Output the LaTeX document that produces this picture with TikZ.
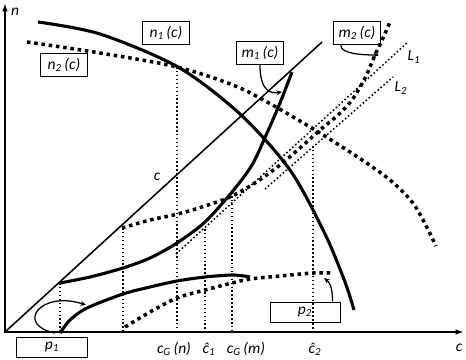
\documentclass[tikz,border=0pt]{standalone}
\usepackage{fontspec}
\setmainfont{Carlito}
\usepackage{tikz}
\usetikzlibrary{arrows.meta}

\begin{document}
\begin{tikzpicture}[x=0.025cm, y=-0.025cm,
    curve/.style={line width=2.2pt},
    bigdots/.style={line width=2.5pt, dash pattern=on 2.5pt off 2.7pt},
    finedots/.style={line width=1.1pt, dash pattern=on 1.1pt off 1.7pt},
    lab/.style={font=\itshape\fontsize{11}{12}\selectfont},
    fbox/.style={lab, draw, line width=1.2pt, minimum width=1.17cm, minimum height=0.57cm, inner sep=1pt},
    pbox/.style={lab, draw, line width=0.7pt, minimum width=1.75cm, minimum height=0.5cm, inner sep=1pt},
    pointer/.style={line width=0.9pt, -{Stealth[length=4pt, width=3.5pt]}}]
    \useasboundingbox (0,0) rectangle (466,360);

    \coordinate (O) at (5,332);
    \coordinate (xend) at (464,332);
    \coordinate (yend) at (5,3);
    \coordinate (diagend) at (322,42);
    \draw[line width=1.4pt, {Latex[length=6pt, width=4pt]}-{Latex[length=6pt, width=4pt]}] (yend) -- (O) -- (xend);
    \draw[line width=1.1pt] (O) -- (diagend);

    \foreach \x/\y [count=\i] in {60/283, 123/228, 177/67, 205/229, 232/196, 313/146} {
        \coordinate (top\i) at (\x,\y);
        \draw[finedots] (top\i) -- (top\i |- O);
    }

    \draw[curve] plot[smooth] coordinates {(38,22) (100,34) (178,67) (240,114) (290,170) (325,234) (345,282) (354,310)};
    \draw[bigdots] plot[smooth] coordinates {(27,42) (100,53) (177,67) (240,88) (300,121) (350,152) (390,180) (415,206) (436,246)};
    \draw[curve] plot[smooth] coordinates {(60,283) (90,277) (123,268) (150,258) (177,243) (205,222) (232,192) (252,165) (267,133) (280,103) (292,72)};
    \draw[bigdots] plot[smooth] coordinates {(122,228) (150,220) (178,214) (205,206) (230,197) (255,183) (280,165) (300,148) (320,130) (338,115) (352,100) (365,78) (375,55) (383,38) (390,22)};
    \draw[curve] plot[smooth] coordinates {(60,333) (70,320) (87,308) (123,294) (150,287) (177,281) (205,277) (233,275) (250,277)};
    \draw[bigdots] plot[smooth] coordinates {(125,327) (150,312) (177,298) (205,290) (232,283) (250,279) (280,276) (313,273) (333,273)};

    \coordinate (L1a) at (176,254);
    \coordinate (L1b) at (408,42);
    \coordinate (L2a) at (265,189);
    \coordinate (L2b) at (393,77);
    \draw[finedots] (L1a) -- (L1b);
    \draw[finedots] (L2a) -- (L2b);

    \node[fbox] (n1lab) at (166,33) {n\textsubscript{1}\,(c)};
    \node[fbox] (n2lab) at (64,65) {n\textsubscript{2}\,(c)};
    \node[fbox] (m1lab) at (260,53) {m\textsubscript{1}\,(c)};
    \node[fbox] (m2lab) at (357,33) {m\textsubscript{2}\,(c)};
    \node[pbox] (p1lab) at (52,347) {p\textsubscript{1}};
    \node[pbox] (p2lab) at (305,312) {p\textsubscript{2}};

    \node[lab] (ycap) at (15,12) {n};
    \node[lab] (xcap) at (459,348) {c};
    \node[lab] (diagcap) at (157,177) {c};
    \node[lab] (cgn) at (174,349) {c\textsubscript{G}\,(n)};
    \node[lab] (chat1) at (209,349) {ĉ\textsubscript{1}};
    \node[lab] (cgm) at (246,349) {c\textsubscript{G}\,(m)};
    \node[lab] (chat2) at (315,349) {ĉ\textsubscript{2}};
    \node[lab] (L1cap) at (414,57) {L\textsubscript{1}};
    \node[lab] (L2cap) at (401,88) {L\textsubscript{2}};

    \coordinate (m1tip) at (282,92);
    \coordinate (m2tip) at (379,55);
    \coordinate (p2tip) at (324,278);
    \coordinate (p1foot) at (55,333);
    \coordinate (p1tip) at (86,305);
    \draw[pointer] (m1lab.south) .. controls +(0,25) and +(-12,2) .. (m1tip);
    \draw[pointer] ([xshift=0.2cm]m2lab.south west) .. controls +(0,9) and +(-15,0) .. (m2tip);
    \draw[pointer] ([xshift=-0.2cm]p2lab.north east) .. controls +(0,-16) and +(5,4) .. (p2tip);
    \draw[pointer] (p1foot) .. controls +(-40,-8) and +(-46,-15) .. (p1tip);
\end{tikzpicture}
\end{document}
